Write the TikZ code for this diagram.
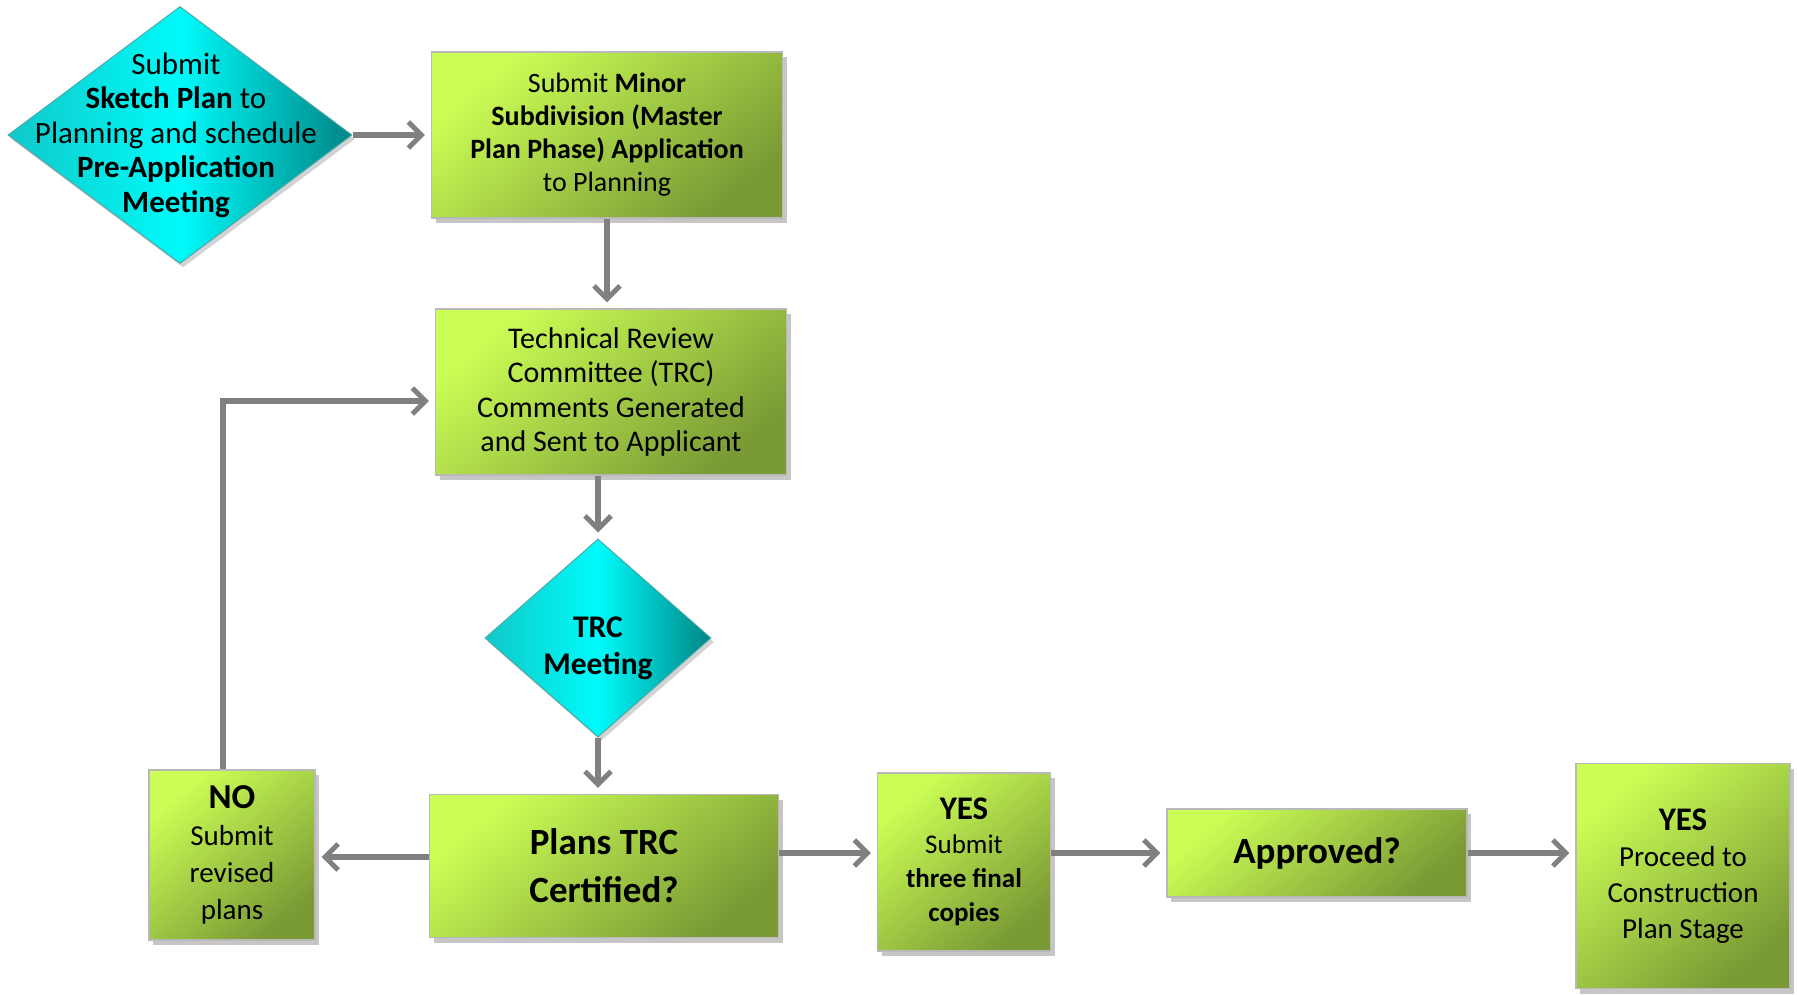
\documentclass[tikz,border=0pt]{standalone}
\usepackage{fontspec}
\setmainfont{Carlito}
\usetikzlibrary{shapes.geometric,shadows,arrows.meta}
\definecolor{gLight}{HTML}{CCFF55}
\definecolor{gDark}{HTML}{7A9A35}
\definecolor{cLight}{HTML}{00FAFA}
\definecolor{cDark}{HTML}{008585}
\definecolor{cMid}{HTML}{10C8C8}
\definecolor{arr}{HTML}{808080}
\tikzset{
  gbox/.style={rectangle, draw=gray!55, line width=1.2pt, top color=gLight, bottom color=gDark, shading angle=40,
    drop shadow={opacity=0.45, shadow xshift=4pt, shadow yshift=-5pt},
    align=center, inner sep=0pt, font=\fontsize{28}{33}\selectfont},
  cdia/.style={diamond, draw=cDark!70, line width=1pt, left color=cMid, right color=cDark, middle color=cLight,
    drop shadow={opacity=0.35, shadow xshift=3pt, shadow yshift=-4pt},
    inner sep=0pt},
  dtext/.style={align=center, inner sep=0pt, font=\fontsize{31}{34.5}\selectfont},
  conn/.style={draw=arr, line width=5.5pt, -{Straight Barb[length=13pt,width=26pt,line width=5pt]}, shorten >=6pt}
}
\begin{document}
\begin{tikzpicture}[x=1pt,y=-1pt]
\useasboundingbox (0,0) rectangle (1797,995);
\node[cdia, minimum width=344pt, minimum height=257pt] (d1) at (180,135) {};
\node[dtext] (d1t) at ([xshift=-4pt]d1.center)
  {Submit\\\textbf{Sketch Plan} to\\Planning and schedule\\\textbf{Pre-Application}\\\textbf{Meeting}};
\node[gbox, minimum width=351pt, minimum height=166pt] (b1) at (607,135)
  {Submit \textbf{Minor}\\\textbf{Subdivision (Master}\\\textbf{Plan Phase) Application}\\to Planning};
\node[gbox, minimum width=351pt, minimum height=166pt, font=\fontsize{30}{34.5}\selectfont] (trc) at (611,392)
  {Technical Review\\Committee (TRC)\\Comments Generated\\and Sent to Applicant};
\node[cdia, minimum width=226pt, minimum height=198pt] (d2) at (598,638) {};
\node[dtext, font=\fontsize{31.5}{37}\selectfont\bfseries] (d2t) at ([yshift=-10pt]d2.center) {TRC\\Meeting};
\node[gbox, minimum width=349pt, minimum height=143pt, font=\fontsize{37}{48}\selectfont\bfseries] (plans) at (604,866)
  {Plans TRC\\Certified?};
\node[gbox, minimum width=166pt, minimum height=170pt, font=\fontsize{29}{37}\selectfont] (no) at (232,855)
  {{\fontsize{35}{40}\selectfont\textbf{NO}}\\Submit\\revised\\plans};
\node[gbox, minimum width=173pt, minimum height=178pt, font=\fontsize{27}{34}\selectfont] (yes) at (964,862)
  {{\fontsize{33}{38}\selectfont\textbf{YES}}\\Submit\\\textbf{three final}\\\textbf{copies}};
\node[gbox, minimum width=300pt, minimum height=88pt, font=\fontsize{37}{44}\selectfont\bfseries] (appr) at (1317,853)
  {Approved?};
\node[gbox, minimum width=214pt, minimum height=225pt, font=\fontsize{29}{36}\selectfont] (yes2) at (1683,876)
  {{\fontsize{33}{38}\selectfont\textbf{YES}}\\Proceed to\\Construction\\Plan Stage};
\draw[conn] (d1.east) -- (b1.west |- d1.east);
\draw[conn] (b1.south) -- (b1.south |- trc.north);
\draw[conn] (d2.north |- trc.south) -- (d2.north);
\draw[conn] (d2.south) -- (d2.south |- plans.north);
\draw[conn] (plans.west |- 0,857) -- (no.east |- 0,857);
\draw[conn] ([xshift=-9pt]no.north) |- (trc.west |- 0,401);
\draw[conn] (plans.east |- appr.west) -- (yes.west |- appr.west);
\draw[conn] (yes.east |- appr.west) -- (appr.west);
\draw[conn] (appr.east) -- (yes2.west |- appr.east);
\end{tikzpicture}
\end{document}
